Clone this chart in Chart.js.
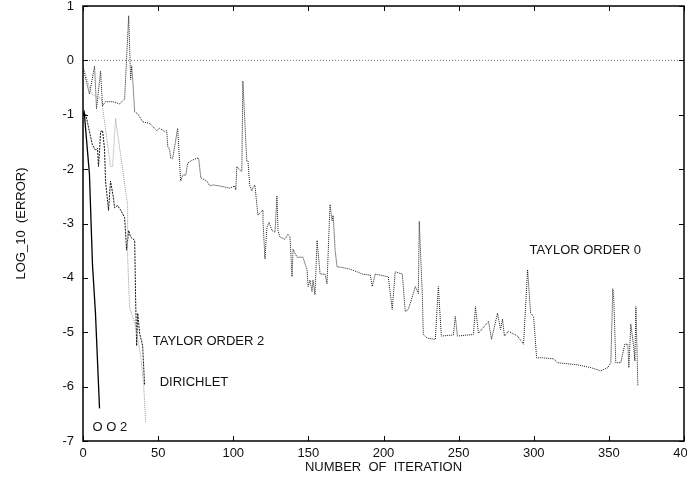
<!DOCTYPE html>
<html>
<head>
<meta charset="utf-8">
<script src="https://cdn.jsdelivr.net/npm/chart.js@4/dist/chart.umd.min.js"></script>
<style>
html,body{margin:0;padding:0;background:#fff;}
canvas{display:block;}
</style>
</head>
<body>
<canvas id="c" width="687" height="482"></canvas>
<script>
// ---- data ----
const xTicks = [0, 50, 100, 150, 200, 250, 300, 350, 400];
const yTicks = [-7, -6, -5, -4, -3, -2, -1, 0, 1];

const taylor0X = [0.3,4.3,7.7,9,11.7,13,15,19.7,24.4,27.7,29,30.4,31.7,32.4,33.2,34.4,36.4,39.7,44.4,49,51,54.4,55.7,56.4,57.7,58.4,59.7,63,65,66.4,68.4,69.7,72.4,75.7,77,78.4,82.4,84.4,86.4,91,97.7,101,101.7,102.4,104.4,105.7,106.4,109,109.8,111,112.4,113,114.4,115.7,116.4,119.8,119.8,121.1,122.4,123.8,125.8,127.8,129.1,129.8,131.1,134.4,136.4,137.8,139.1,139.8,142.4,146.4,149.1,149.8,151.1,152.4,153.1,154.4,155.8,157.8,161.1,162.4,164.4,165.8,166.5,167.8,169.1,171.1,177.8,182.5,185.8,191.2,192.5,194.5,203.2,205.8,207.8,212.5,214.5,216.5,219.8,221.2,223.2,223.8,225.8,226.5,229.2,234.5,236.5,238.5,246.5,247.8,249.2,259.9,261.2,263.2,269.9,271.9,275.9,277.9,279.2,280.5,283.2,289.2,293.2,295.9,297.9,299.9,301.9,305.9,313.2,315.9,329.2,337.9,344.6,349.3,351.3,352.6,353.3,354.6,357.9,360.6,362.6,363.3,364.6,366.6,367.3,368,369.3];
const taylor0Y = [-0.16,-0.62,-0.11,-0.89,-0.2,-0.84,-0.76,-0.76,-0.8,-0.71,0.02,0.82,-0.35,-0.1,-0.4,-0.95,-0.98,-1.13,-1.16,-1.29,-1.25,-1.31,-1.29,-1.58,-1.65,-1.8,-1.8,-1.25,-2.22,-2.11,-2.11,-1.89,-1.84,-1.8,-1.8,-2.16,-2.22,-2.31,-2.29,-2.31,-2.35,-2.31,-2.38,-1.95,-2.02,-2.04,-0.38,-1.85,-1.85,-2.31,-2.4,-2.35,-2.29,-2.65,-2.85,-2.75,-2.95,-3.65,-3.07,-2.98,-3.13,-3.16,-2.49,-3.13,-3.25,-3.29,-3.2,-3.25,-3.98,-3.47,-3.62,-3.62,-3.85,-4.16,-4.04,-4.25,-4.04,-4.31,-3.31,-3.93,-3.93,-4.11,-2.65,-2.95,-2.85,-3.49,-3.8,-3.8,-3.84,-3.89,-3.93,-3.95,-4.16,-3.93,-3.98,-4.58,-3.89,-3.93,-4.62,-4.58,-4.29,-4.16,-4.29,-2.96,-4.29,-5.04,-5.11,-5.13,-4.16,-5.07,-5.05,-4.71,-5.07,-5.04,-4.53,-5.02,-4.8,-5.13,-4.65,-4.95,-4.76,-5.07,-4.98,-5.07,-5.22,-3.85,-4.65,-4.71,-5.47,-5.47,-5.49,-5.56,-5.6,-5.65,-5.71,-5.65,-5.56,-4.2,-4.4,-5.56,-5.56,-5.22,-5.22,-5.65,-4.85,-5.29,-5.53,-4.53,-5.98];

const taylor2X = [0,1.7,4.3,6.3,8.3,9.7,10.3,11,11.7,13,14.3,15,17,18.3,20.3,21,23,25,27.7,28.4,29,30.4,31.7,34.4,35,35.7,36.4,37.7,39.7,41];
const taylor2Y = [-1,-0.98,-1.31,-1.56,-1.65,-1.62,-1.95,-1.67,-1.31,-1.29,-1.62,-2.22,-2.76,-2.22,-2.53,-2.71,-2.67,-2.75,-2.89,-3.2,-3.49,-3.13,-3.25,-3.31,-4.35,-5.25,-4.65,-5.02,-5.25,-5.98];

const dirichletX = [0.3,5.7,12.3,18.3,19.7,21.7,29.7,29.7,31,33,35,38.4,40.4,41.7];
const dirichletY = [-0.13,-0.62,-0.71,-1.95,-1.95,-1.07,-2.67,-3.62,-4.53,-4.71,-4.89,-5.44,-5.98,-6.65];

const oo2X = [0,0.8,4.3,6.3,8.3,11];
const oo2Y = [-1,-0.95,-2.1,-3.75,-4.65,-6.4];

const zeroX = [0, 400];
const zeroY = [0, 0];

// curve labels: [text, x value, y value]
const curveLabels = [
  ["TAYLOR ORDER 0", 297.2, -3.49],
  ["TAYLOR ORDER 2", 46.4, -5.16],
  ["DIRICHLET", 51, -5.93],
  ["O O 2", 6.3, -6.75]
];

const pts = (xs, ys) => xs.map((v, i) => ({x: v, y: ys[i]}));
const FONT = '"Liberation Sans", Arial, Helvetica, sans-serif';

const frameTicks = {
  id: 'frameTicks',
  afterDatasetsDraw(chart) {
    const {ctx, chartArea: a, scales: {x, y}} = chart;
    ctx.save();
    ctx.strokeStyle = '#000';
    ctx.lineWidth = 1;
    ctx.beginPath();
    x.ticks.forEach(t => {
      const px = Math.round(x.getPixelForValue(t.value)) + 0.5;
      ctx.moveTo(px, a.bottom); ctx.lineTo(px, a.bottom - 5);
      ctx.moveTo(px, a.top); ctx.lineTo(px, a.top + 5);
    });
    y.ticks.forEach(t => {
      const py = Math.round(y.getPixelForValue(t.value)) + 0.5;
      ctx.moveTo(a.left, py); ctx.lineTo(a.left + 5, py);
      ctx.moveTo(a.right, py); ctx.lineTo(a.right - 5, py);
    });
    ctx.stroke();
    ctx.lineWidth = 1.5;
    ctx.strokeRect(a.left, a.top, a.right - a.left, a.bottom - a.top);
    ctx.fillStyle = '#111';
    ctx.font = '13px ' + FONT;
    ctx.textBaseline = 'middle';
    ctx.textAlign = 'left';
    curveLabels.forEach(([txt, vx, vy]) => {
      ctx.fillText(txt, x.getPixelForValue(vx), y.getPixelForValue(vy));
    });
    ctx.restore();
  }
};

new Chart(document.getElementById('c'), {
  type: 'scatter',
  data: {
    datasets: [
      {label: 'zero', data: pts(zeroX, zeroY), showLine: true, borderColor: '#555', borderWidth: 0.8, borderDash: [1, 2], pointRadius: 0},
      {label: 'Dirichlet', data: pts(dirichletX, dirichletY), showLine: true, borderColor: '#9a9a9a', borderWidth: 1, borderDash: [1, 1], pointRadius: 0},
      {label: 'Taylor order 0', data: pts(taylor0X, taylor0Y), showLine: true, borderColor: '#1a1a1a', borderWidth: 1, borderDash: [1, 1], pointRadius: 0},
      {label: 'Taylor order 2', data: pts(taylor2X, taylor2Y), showLine: true, borderColor: '#111', borderWidth: 1, borderDash: [2, 1], pointRadius: 0},
      {label: 'OO2', data: pts(oo2X, oo2Y), showLine: true, borderColor: '#000', borderWidth: 1.3, pointRadius: 0}
    ]
  },
  options: {
    responsive: false,
    animation: false,
    devicePixelRatio: 1,
    layout: {padding: {left: 0, right: 3, top: 6, bottom: 0}},
    plugins: {legend: {display: false}, tooltip: {enabled: false}},
    elements: {line: {tension: 0}},
    scales: {
      x: {
        type: 'linear', min: 0, max: 400,
        afterBuildTicks(s) { s.ticks = xTicks.map(v => ({value: v})); },
        ticks: {color: '#111', font: {family: FONT, size: 13}, padding: 5, maxRotation: 0},
        grid: {display: false, drawTicks: false},
        border: {display: false},
        title: {display: true, text: 'NUMBER  OF  ITERATION', color: '#111', font: {family: FONT, size: 13}, padding: {top: 0, bottom: 7}},
        afterFit(s) { s.height = 41; s.paddingLeft = 0; s.paddingRight = 0; }
      },
      y: {
        type: 'linear', min: -7, max: 1,
        afterBuildTicks(s) { s.ticks = yTicks.map(v => ({value: v})); },
        ticks: {color: '#111', font: {family: FONT, size: 13}, padding: 9},
        grid: {display: false, drawTicks: false},
        border: {display: false},
        title: {display: true, text: 'LOG_10  (ERROR)', color: '#111', font: {family: FONT, size: 13}, padding: {top: 14, bottom: 0}},
        afterFit(s) { s.width = 83; s.paddingTop = 0; s.paddingBottom = 0; }
      }
    }
  },
  plugins: [frameTicks]
});
</script>
</body>
</html>
